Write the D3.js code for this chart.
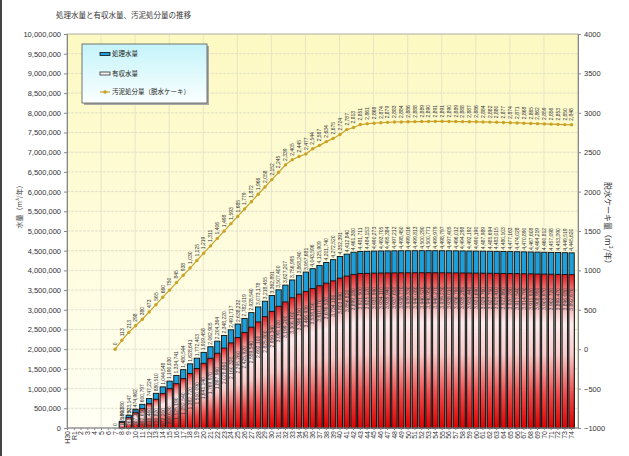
<!DOCTYPE html>
<html>
<head>
<meta charset="utf-8">
<script src="https://cdn.jsdelivr.net/npm/d3@7"></script>
<style>
body { margin: 0; background: #fff; }
text { font-family: "Liberation Sans", Arial, sans-serif; }
.jp { font-family: "Noto Sans CJK JP", sans-serif; }
</style>
</head>
<body>
<div id="chart"></div>
<script>
// Data
const years = ["H30","R1","2","3","4","5","6","7","8","9","10","11","12","13","14","15","16","17","18","19",
  "20","21","22","23","24","25","26","27","28","29","30","31","32","33","34","35","36","37","38","39",
  "40","41","42","43","44","45","46","47","48","49","50","51","52","53","54","55","56","57","58","59",
  "60","61","62","63","64","65","66","67","68","69","70","71","72","73","74"]

// 処理水量 (m3/year)
const treated = [null,null,null,null,null,null,null,0,
  169880,323147,474962,600797,747224,880510,1044548,1190030,1334741,1480544,1628641,1772403,
  1919458,2062905,2204364,2348220,2491717,2638232,2782019,2928540,3073178,3218455,3362891,3507400,
  3627207,3756995,3868240,3957681,4043596,4125909,4201740,4272520,4352391,4412840,4461300,4481711,
  4484153,4490273,4493705,4495384,4497212,4498450,4499016,4499813,4500290,4500771,4499979,4498797,
  4497405,4496012,4494298,4492192,4490190,4487989,4485694,4483015,4480103,4477163,4474028,4470890,
  4467608,4464219,4460812,4457098,4453390,4449519,4445620]

// 有収水量 (m3/year)
const revenue = [null,null,null,null,null,null,null,0,
  135900,261750,387100,492650,616460,730820,872200,999630,1125190,1252540,1382720,1510090,
  1641140,1769970,1897960,2028860,2160320,2295260,2425920,2559540,2692100,2825800,2959340,3090020,
  3199200,3306160,3396310,3466930,3538150,3610170,3676520,3734180,3803990,3856820,3899180,3921500,
  3925120,3930990,3934110,3935940,3937650,3938770,3939330,3940080,3940520,3940950,3940270,3939230,
  3938010,3936790,3935280,3933440,3931690,3929760,3927750,3925410,3922860,3920280,3917540,3914790,
  3911920,3908950,3905970,3902720,3899470,3896080,3892670]

// 汚泥処分量 (脱水ケーキ, m3/year)
const sludge = [null,null,null,null,null,null,null,0,
  113,213,298,380,473,565,660,750,845,938,1030,1125,
  1219,1311,1406,1498,1593,1685,1779,1872,1966,2058,2152,2245,
  2339,2405,2445,2477,2544,2587,2634,2675,2724,2787,2813,2851,
  2861,2868,2874,2879,2883,2884,2886,2888,2889,2890,2891,2891,
  2890,2889,2888,2887,2886,2884,2882,2880,2877,2874,2871,2868,
  2865,2862,2859,2856,2853,2850,2848]

const leftTicks = [0,500000,1000000,1500000,2000000,2500000,3000000,3500000,4000000,4500000,5000000,
  5500000,6000000,6500000,7000000,7500000,8000000,8500000,9000000,9500000,10000000]
const rightTicks = [-1000,-500,0,500,1000,1500,2000,2500,3000,3500,4000]

const seriesNames = ["処理水量", "有収水量", "汚泥処分量（脱水ケーキ）"]

// Chart parameters
const WIDTH = 629
const HEIGHT = 456
const PLOT = {LEFT:67, RIGHT:578, TOP:34, BOTTOM:428}
const LINE_COLOUR = "#c9a227"

const rows = years.map((y, i) => ({year:y, treated:treated[i], revenue:revenue[i], sludge:sludge[i]}))

const svg = d3.select("#chart").append("svg")
    .attr("width", WIDTH)
    .attr("height", HEIGHT)

const defs = svg.append("defs")

// plot background: pale yellow
const bg = defs.append("linearGradient").attr("id", "bgGrad")
    .attr("x1", 0).attr("y1", 0).attr("x2", 0).attr("y2", 1)
bg.append("stop").attr("offset", "0%").attr("stop-color", "#fdf9c2")
bg.append("stop").attr("offset", "100%").attr("stop-color", "#fffff4")

// red bars: red top, pale middle, red bottom
const rg = defs.append("linearGradient").attr("id", "redGrad")
    .attr("x1", 0).attr("y1", 0).attr("x2", 0).attr("y2", 1)
rg.append("stop").attr("offset", "0%").attr("stop-color", "#e01a1e")
rg.append("stop").attr("offset", "12%").attr("stop-color", "#f08a8a")
rg.append("stop").attr("offset", "32%").attr("stop-color", "#fdecec")
rg.append("stop").attr("offset", "52%").attr("stop-color", "#f9caca")
rg.append("stop").attr("offset", "78%").attr("stop-color", "#ee4a4a")
rg.append("stop").attr("offset", "100%").attr("stop-color", "#dd0000")

// legend box: light cyan to white
const lg = defs.append("linearGradient").attr("id", "legGrad")
    .attr("x1", 0).attr("y1", 0).attr("x2", 0).attr("y2", 1)
lg.append("stop").attr("offset", "0%").attr("stop-color", "#c4f4fa")
lg.append("stop").attr("offset", "100%").attr("stop-color", "#fbffff")

// Scales (the category band sits a few px left of the plot frame, as in the original)
const x = d3.scaleBand()
    .domain(years)
    .range([PLOT.LEFT - 3, PLOT.RIGHT - 3])
    .paddingInner(0.22)
    .paddingOuter(0.11)

const yL = d3.scaleLinear().domain([0, 10000000]).range([PLOT.BOTTOM, PLOT.TOP])
const yR = d3.scaleLinear().domain([-1000, 4000]).range([PLOT.BOTTOM, PLOT.TOP])

// Left border of the picture
svg.append("line").attr("x1", 1).attr("x2", 1).attr("y1", 0).attr("y2", HEIGHT)
    .attr("stroke", "#444").attr("stroke-width", 2)

// Plot background
svg.append("rect")
    .attr("x", PLOT.LEFT).attr("y", PLOT.TOP)
    .attr("width", PLOT.RIGHT - PLOT.LEFT).attr("height", PLOT.BOTTOM - PLOT.TOP)
    .attr("fill", "url(#bgGrad)")
    .attr("stroke", "#999").attr("stroke-width", 0.8)

// Grid lines
svg.append("g").selectAll("line")
    .data(leftTicks.slice(1, -1))
    .enter().append("line")
    .attr("x1", PLOT.LEFT).attr("x2", PLOT.RIGHT)
    .attr("y1", d => yL(d)).attr("y2", d => yL(d))
    .attr("stroke", "#cfcfc0").attr("stroke-width", 0.6)
    .attr("stroke-dasharray", "3,1")

svg.append("g").selectAll("line")
    .data(d3.range(1, 15))
    .enter().append("line")
    .attr("x1", k => PLOT.LEFT + k * 5 * x.step())
    .attr("x2", k => PLOT.LEFT + k * 5 * x.step())
    .attr("y1", PLOT.TOP).attr("y2", PLOT.BOTTOM)
    .attr("stroke", "#d6d6c4").attr("stroke-width", 0.6)

const barRows = rows.filter(d => d.treated !== null)

// Blue bars (処理水量)
svg.append("g").selectAll("rect")
    .data(barRows)
    .enter().append("rect")
    .attr("x", d => x(d.year))
    .attr("y", d => yL(d.treated))
    .attr("width", x.bandwidth())
    .attr("height", d => yL(0) - yL(d.treated))
    .attr("fill", "#1c9fda")
    .attr("stroke", "#111").attr("stroke-width", 0.9)

// Red bars (有収水量), overlapped on the blue ones
svg.append("g").selectAll("rect")
    .data(barRows)
    .enter().append("rect")
    .attr("x", d => x(d.year))
    .attr("y", d => yL(d.revenue))
    .attr("width", x.bandwidth())
    .attr("height", d => yL(0) - yL(d.revenue))
    .attr("fill", "url(#redGrad)")
    .attr("stroke", "#111").attr("stroke-width", 0.9)

const fmt = d3.format(",")
const cx = d => x(d.year) + x.bandwidth() / 2

// Labels above blue bars
svg.append("g").selectAll("text")
    .data(barRows)
    .enter().append("text")
    .attr("transform", d => `translate(${cx(d) + 1.8},${yL(d.treated) - 2}) rotate(-90)`)
    .attr("font-size", 5)
    .attr("fill", "#333")
    .text(d => fmt(d.treated))

// Labels inside red bars (kept above the axis for the short bars)
svg.append("g").selectAll("text")
    .data(barRows.filter(d => d.revenue > 0))
    .enter().append("text")
    .attr("transform", d => `translate(${cx(d) + 1.8},${Math.min(yL(d.revenue) + 36, PLOT.BOTTOM - 2)}) rotate(-90)`)
    .attr("font-size", 5)
    .attr("fill", "#333")
    .text(d => fmt(d.revenue))

// Sludge line
const lineRows = rows.filter(d => d.sludge !== null)
const line = d3.line().x(cx).y(d => yR(d.sludge))

svg.append("path")
    .datum(lineRows)
    .attr("d", line)
    .attr("fill", "none")
    .attr("stroke", LINE_COLOUR)
    .attr("stroke-width", 1.2)

svg.append("g").selectAll("circle")
    .data(lineRows)
    .enter().append("circle")
    .attr("cx", cx)
    .attr("cy", d => yR(d.sludge))
    .attr("r", 1.7)
    .attr("fill", LINE_COLOUR)

svg.append("g").selectAll("text")
    .data(lineRows)
    .enter().append("text")
    .attr("transform", d => `translate(${cx(d) + 1.8},${yR(d.sludge) - 4}) rotate(-90)`)
    .attr("font-size", 5)
    .attr("fill", "#333")
    .text(d => fmt(d.sludge))

// Axes
const leftAxis = svg.append("g")
    .attr("transform", `translate(${PLOT.LEFT},0)`)
    .call(d3.axisLeft(yL).tickValues(leftTicks).tickFormat(fmt).tickSize(3).tickPadding(3))
const rightAxis = svg.append("g")
    .attr("transform", `translate(${PLOT.RIGHT},0)`)
    .call(d3.axisRight(yR).tickValues(rightTicks).tickFormat(d3.format("d")).tickSize(3).tickPadding(3))
const bottomAxis = svg.append("g")
    .attr("transform", `translate(0,${PLOT.BOTTOM})`)
    .call(d3.axisBottom(x).tickSize(2).tickSizeOuter(0))
bottomAxis.select(".domain").attr("d", `M${PLOT.LEFT},0H${PLOT.RIGHT}`)

bottomAxis.selectAll("text")
    .attr("transform", "rotate(-90)")
    .attr("text-anchor", "end")
    .attr("x", -3)
    .attr("y", 0)
    .attr("dy", "0.35em")

for (const ax of [leftAxis, rightAxis, bottomAxis]) {
    ax.select(".domain").attr("stroke", "#888")
    ax.selectAll(".tick line").attr("stroke", "#888")
    ax.selectAll("text").attr("fill", "#333").attr("font-size", 7.5)
        .attr("font-family", "Liberation Sans, Arial, sans-serif")
}
bottomAxis.selectAll("text").attr("font-size", 7)

// Title
svg.append("text")
    .attr("class", "jp")
    .attr("x", 56).attr("y", 18)
    .attr("font-size", 7.5)
    .attr("fill", "#333")
    .text("処理水量と有収水量、汚泥処分量の推移")

// Axis titles
svg.append("text")
    .attr("class", "jp")
    .attr("transform", "translate(22,205) rotate(-90)")
    .attr("text-anchor", "middle")
    .attr("font-size", 7)
    .attr("fill", "#333")
    .text("水量（m³/年）")

svg.append("text")
    .attr("class", "jp")
    .attr("transform", "translate(605,225) rotate(90)")
    .attr("text-anchor", "middle")
    .attr("font-size", 8)
    .attr("fill", "#333")
    .text("脱水ケーキ量（m³/年）")

// Legend
const legend = svg.append("g").attr("transform", "translate(82,44)")
legend.append("rect")
    .attr("x", 2).attr("y", 2).attr("width", 125).attr("height", 59)
    .attr("fill", "#aaa")
legend.append("rect")
    .attr("width", 125).attr("height", 59)
    .attr("fill", "url(#legGrad)")
    .attr("stroke", "#555").attr("stroke-width", 0.8)

const legendY = [10, 29.5, 48]
legend.append("rect")
    .attr("x", 18).attr("y", legendY[0] - 1.5).attr("width", 10).attr("height", 3)
    .attr("fill", "#1c9fda").attr("stroke", "#111").attr("stroke-width", 0.8)
legend.append("rect")
    .attr("x", 18).attr("y", legendY[1] - 1.5).attr("width", 10).attr("height", 3)
    .attr("fill", "#f6f0f0").attr("stroke", "#333").attr("stroke-width", 0.8)
legend.append("line")
    .attr("x1", 18).attr("x2", 28).attr("y1", legendY[2]).attr("y2", legendY[2])
    .attr("stroke", LINE_COLOUR).attr("stroke-width", 1.2)
legend.append("circle")
    .attr("cx", 23).attr("cy", legendY[2]).attr("r", 1.7)
    .attr("fill", LINE_COLOUR)

legend.selectAll("text.item")
    .data(seriesNames)
    .enter().append("text")
    .attr("class", "item jp")
    .attr("x", 30)
    .attr("y", (d, i) => legendY[i])
    .attr("dy", "0.35em")
    .attr("font-size", 6.5)
    .attr("fill", "#222")
    .text(d => d)
</script>
</body>
</html>
